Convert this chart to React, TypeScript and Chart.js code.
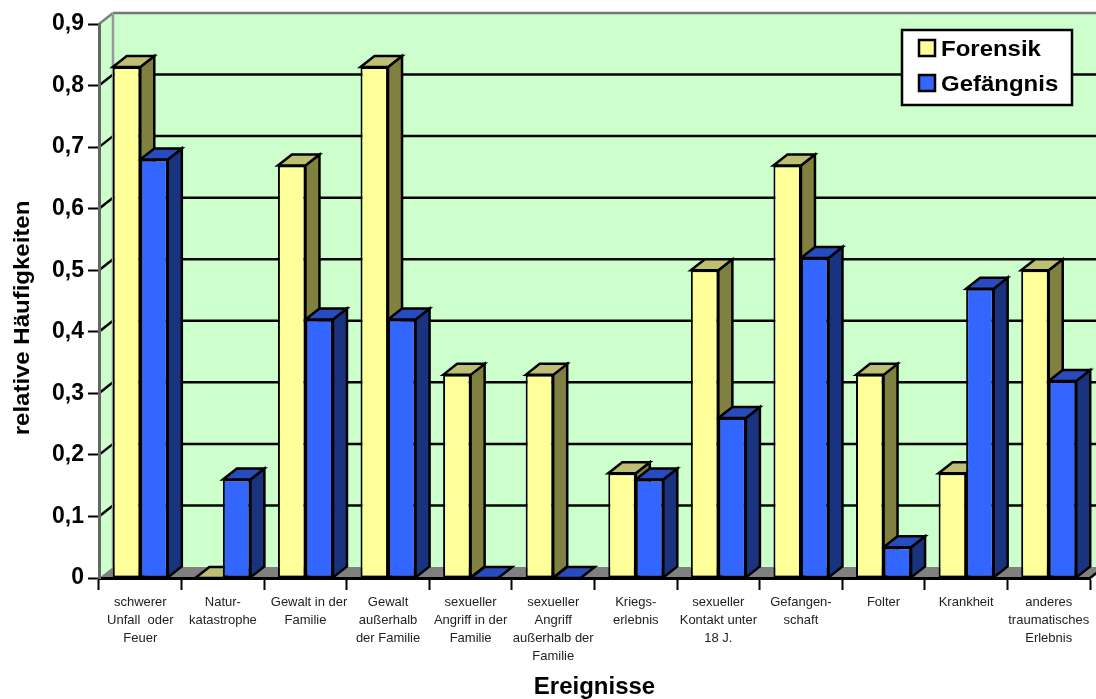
import React, { useEffect, useRef } from "react";
import { Chart, registerables } from "chart.js";

Chart.register(...registerables);

const categories: string[][] = [
  ["schwerer", "Unfall  oder", "Feuer"],
  ["Natur-", "katastrophe"],
  ["  Gewalt in der", "Familie"],
  ["Gewalt", "außerhalb", "der Familie"],
  ["sexueller", "Angriff in der", "Familie"],
  ["sexueller", "Angriff", "außerhalb der", "Familie"],
  ["Kriegs-", "erlebnis"],
  ["sexueller", "Kontakt unter", "18 J."],
  ["Gefangen-", "schaft"],
  ["Folter"],
  ["Krankheit"],
  ["anderes", "traumatisches", "Erlebnis"],
];
const forensik = [0.83, 0, 0.67, 0.83, 0.33, 0.33, 0.17, 0.5, 0.67, 0.33, 0.17, 0.5];
const gefaengnis = [0.68, 0.16, 0.42, 0.42, 0, 0, 0.16, 0.26, 0.52, 0.05, 0.47, 0.32];
const yTitle = "relative Häufigkeiten";
const xTitle = "Ereignisse";

const FONT = '"Liberation Sans", Arial, sans-serif';
const DEPTH_X = 14;
const DEPTH_Y = 11;
const WALL = "#CCFFCC";
const GREY = "#808080";
const STROKE = 2.5;

const SHADES = [
  { front: "#FFFF99", side: "#808040", top: "#BFBF73" },
  { front: "#3366FF", side: "#1A337F", top: "#264CBF" },
];

function poly(ctx: CanvasRenderingContext2D, pts: number[][], fill: string | null, stroke: string | null) {
  ctx.beginPath();
  pts.forEach(([x, y], i) => (i ? ctx.lineTo(x, y) : ctx.moveTo(x, y)));
  ctx.closePath();
  if (fill) {
    ctx.fillStyle = fill;
    ctx.fill();
  }
  if (stroke) {
    ctx.strokeStyle = stroke;
    ctx.lineWidth = STROKE;
    ctx.lineJoin = "miter";
    ctx.stroke();
  }
}

function line(ctx: CanvasRenderingContext2D, x1: number, y1: number, x2: number, y2: number, color: string, lw = STROKE) {
  ctx.beginPath();
  ctx.moveTo(x1, y1);
  ctx.lineTo(x2, y2);
  ctx.strokeStyle = color;
  ctx.lineWidth = lw;
  ctx.stroke();
}

// Bold label widened a little along its baseline.
function wideText(ctx: CanvasRenderingContext2D, text: string, x: number, y: number, align: CanvasTextAlign, angle = 0) {
  ctx.save();
  ctx.translate(x, y);
  ctx.rotate(angle);
  ctx.scale(1.09, 1);
  ctx.font = `bold 22px ${FONT}`;
  ctx.fillStyle = "#000";
  ctx.textAlign = align;
  ctx.textBaseline = "alphabetic";
  ctx.fillText(text, 0, 0);
  ctx.restore();
}

const box3d = {
  id: "box3d",
  // Back wall, left wall, floor and gridlines of the box.
  beforeDraw(chart: any) {
    const { ctx, chartArea: a, scales } = chart;
    const { left, right, top, bottom } = a;
    const dx = DEPTH_X;
    const dy = DEPTH_Y;
    ctx.save();
    poly(ctx, [[left + dx, top - dy], [right + dx, top - dy], [right + dx, bottom - dy], [left + dx, bottom - dy]], WALL, null);
    poly(ctx, [[left, top], [left + dx, top - dy], [left + dx, bottom - dy], [left, bottom]], WALL, null);
    poly(ctx, [[left, bottom], [left + dx, bottom - dy], [right + dx, bottom - dy], [right, bottom]], GREY, null);
    for (const t of scales.y.ticks) {
      if (t.value === 0) continue;
      const y = scales.y.getPixelForValue(t.value);
      if (Math.abs(y - top) < 1) continue;
      line(ctx, left + dx, y - dy, right + dx, y - dy, "#000");
      line(ctx, left, y, left + dx, y - dy, "#000");
    }
    line(ctx, left, top, left + dx, top - dy, GREY);
    line(ctx, left + dx, top - dy, right + dx, top - dy, "#777");
    line(ctx, left + dx, top - dy, left + dx, bottom - dy, "#999");
    line(ctx, right, bottom, right + dx, bottom - dy, "#000");
    ctx.restore();
    wideText(ctx, yTitle, 28.5, 318, "center", -Math.PI / 2);
  },
  // Top and side faces of every bar; the fronts are drawn by the bar elements.
  beforeDatasetsDraw(chart: any) {
    const { ctx } = chart;
    ctx.save();
    chart.data.datasets.forEach((_: any, di: number) => {
      const shade = SHADES[di];
      chart.getDatasetMeta(di).data.forEach((bar: any) => {
        const l = bar.x - bar.width / 2;
        const r = bar.x + bar.width / 2;
        const t = bar.y;
        const b = bar.base;
        const dx = DEPTH_X;
        const dy = DEPTH_Y;
        if (b > t) poly(ctx, [[r, t], [r + dx, t - dy], [r + dx, b - dy], [r, b]], shade.side, "#000");
        poly(ctx, [[l, t], [l + dx, t - dy], [r + dx, t - dy], [r, t]], shade.top, "#000");
      });
    });
    ctx.restore();
  },
  // Legend box in the upper right corner of the wall.
  afterDatasetsDraw(chart: any) {
    const { ctx } = chart;
    const x = 902;
    const y = 30;
    const w = 170;
    const h = 75;
    ctx.save();
    ctx.fillStyle = "#fff";
    ctx.fillRect(x, y, w, h);
    ctx.strokeStyle = "#000";
    ctx.lineWidth = STROKE;
    ctx.strokeRect(x, y, w, h);
    chart.data.datasets.forEach((ds: any, i: number) => {
      const sy = y + 10 + i * 35;
      ctx.fillStyle = ds.backgroundColor;
      ctx.fillRect(919, sy, 16, 16);
      ctx.strokeRect(919, sy, 16, 16);
      wideText(ctx, ds.label, 941, sy + 16, "left");
    });
    ctx.restore();
  },
};

export default function App() {
  const ref = useRef<HTMLCanvasElement>(null);

  useEffect(() => {
    const chart = new Chart(ref.current!, {
      type: "bar",
      plugins: [box3d],
      data: {
        labels: categories,
        datasets: [
          { label: "Forensik", data: forensik, backgroundColor: SHADES[0].front },
          { label: "Gefängnis", data: gefaengnis, backgroundColor: SHADES[1].front },
        ],
      } as any,
      options: {
        animation: false,
        responsive: false,
        layout: { padding: { left: 0, right: 6, top: 24, bottom: 0 } },
        plugins: { legend: { display: false }, tooltip: { enabled: false } },
        datasets: {
          bar: {
            categoryPercentage: 2 / 3,
            barPercentage: 1,
            borderColor: "#000",
            borderWidth: 2,
            borderSkipped: false,
            clip: false,
          },
        },
        scales: {
          x: {
            afterFit: (s: any) => {
              s.height = 121;
            },
            grid: { drawOnChartArea: false, offset: true, tickLength: 12, tickWidth: 2, tickColor: "#000" },
            border: { color: "#000", width: 3 },
            ticks: {
              autoSkip: false,
              maxRotation: 0,
              minRotation: 0,
              padding: 3,
              color: "#222",
              font: { family: FONT, size: 13, lineHeight: 1.4 },
            },
            title: {
              display: true,
              text: xTitle,
              color: "#000",
              padding: { top: 0, bottom: 0 },
              font: { family: FONT, size: 24, weight: "bold", lineHeight: 1 },
            },
          },
          y: {
            min: 0,
            max: 0.9,
            afterFit: (s: any) => {
              s.width = 99;
            },
            grid: { drawOnChartArea: false, tickLength: 11, tickWidth: 2, tickColor: "#000" },
            border: { color: "#666", width: 3 },
            ticks: {
              stepSize: 0.1,
              padding: 4,
              color: "#000",
              font: { family: FONT, size: 23, weight: "bold" },
              callback: (v: any) => (Number(v) === 0 ? "0" : Number(v).toFixed(1).replace(".", ",")),
            },
          },
        },
      } as any,
    });
    return () => chart.destroy();
  }, []);

  return (
    <div style={{ position: "fixed", left: 0, top: 0, width: 1096, height: 699, background: "#fff" }}>
      <canvas ref={ref} width={1096} height={699} style={{ display: "block" }} />
    </div>
  );
}
